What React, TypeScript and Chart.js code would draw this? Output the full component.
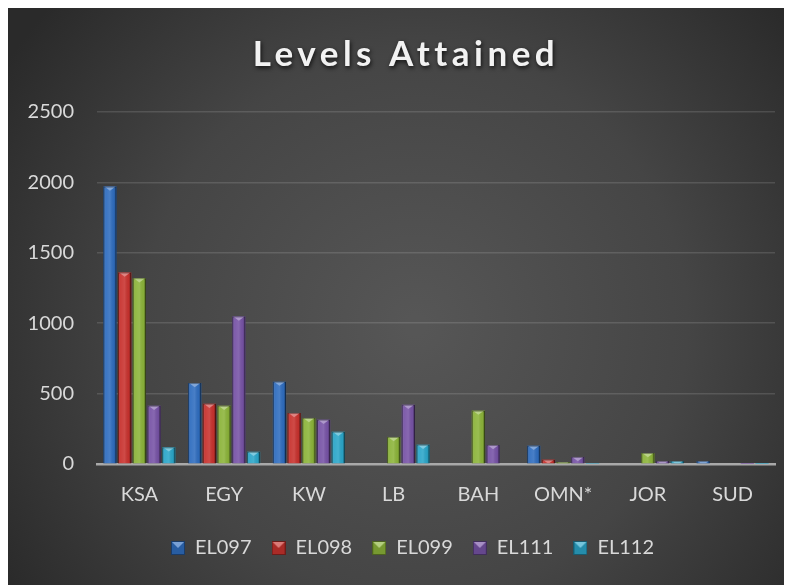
import React, { useEffect, useRef } from "react";
import { Chart, registerables } from "chart.js";
Chart.register(...registerables);

const categories = ["KSA", "EGY", "KW", "LB", "BAH", "OMN*", "JOR", "SUD"];
const seriesNames = ["EL097", "EL098", "EL099", "EL111", "EL112"];
const el097 = [1970, 575, 585, 0, 0, 130, 0, 21];
const el098 = [1360, 428, 362, 0, 0, 31, 0, 0];
const el099 = [1320, 414, 327, 192, 379, 14, 78, 0];
const el111 = [414, 1048, 315, 421, 135, 50, 21, 1];
const el112 = [118, 87, 229, 137, 0, 2, 21, 1];
const seriesValues = [el097, el098, el099, el111, el112];
const yMax = 2500;
const yStep = 500;
const titleText = "Levels Attained";
const colors = ["#2f6dbf", "#c8322e", "#8cb43a", "#7753a6", "#2ba6c9"];

const FONT = "Lato, 'Open Sans', sans-serif";
const W = 784;
const H = 577;

function mix(hex: string, target: number, amt: number) {
  const n = parseInt(hex.slice(1), 16);
  const r = (n >> 16) & 255, g = (n >> 8) & 255, b = n & 255;
  const f = (c: number) => Math.round(c + (target - c) * amt);
  return `rgb(${f(r)},${f(g)},${f(b)})`;
}

function makeIcon(color: string) {
  const c = document.createElement("canvas");
  c.width = 14;
  c.height = 14;
  const x = c.getContext("2d")!;
  x.fillStyle = mix(color, 0, 0.15);
  x.fillRect(0, 0, 14, 14);
  x.fillStyle = mix(color, 255, 0.35);
  x.beginPath();
  x.moveTo(1, 1);
  x.lineTo(13, 1);
  x.lineTo(7, 7);
  x.closePath();
  x.fill();
  x.strokeStyle = mix(color, 0, 0.45);
  x.lineWidth = 1;
  x.strokeRect(0.5, 0.5, 13, 13);
  return c;
}

const bgPlugin = {
  id: "bgPlugin",
  beforeDraw(chart: any) {
    const ctx = chart.ctx;
    ctx.save();
    const g = ctx.createRadialGradient(W * 0.52, H * 0.55, 10, W * 0.52, H * 0.55, W * 0.62);
    g.addColorStop(0, "#565656");
    g.addColorStop(0.55, "#454545");
    g.addColorStop(1, "#2a2a2a");
    ctx.fillStyle = g;
    ctx.fillRect(0, 0, W, H);
    ctx.restore();
  },
};

const legendShiftPlugin = {
  id: "legendShift",
  afterLayout(chart: any) {
    const lg = chart.legend;
    if (lg) {
      lg.left += 21;
      lg.right += 21;
    }
  },
};

const titlePlugin = {
  id: "titlePlugin",
  afterDraw(chart: any) {
    const ctx = chart.ctx;
    ctx.save();
    ctx.font = `bold 35px ${FONT}`;
    (ctx as any).letterSpacing = "4.5px";
    ctx.textAlign = "center";
    ctx.textBaseline = "alphabetic";
    ctx.shadowColor = "rgba(0,0,0,0.75)";
    ctx.shadowBlur = 4;
    ctx.shadowOffsetX = 1;
    ctx.shadowOffsetY = 2;
    ctx.fillStyle = "#f2f2f2";
    ctx.fillText(titleText, 398, 58);
    ctx.restore();
  },
};

const bevelPlugin = {
  id: "bevelPlugin",
  afterDatasetsDraw(chart: any) {
    const ctx = chart.ctx;
    chart.data.datasets.forEach((ds: any, i: number) => {
      const meta = chart.getDatasetMeta(i);
      const color = colors[i];
      meta.data.forEach((el: any) => {
        const { x, y, base, width } = el.getProps(["x", "y", "base", "width"], true);
        const h = base - y;
        if (h < 0.5) return;
        const l = x - width / 2;
        const r = x + width / 2;
        ctx.save();
        ctx.beginPath();
        ctx.rect(l, y, width, h);
        ctx.clip();
        const g = ctx.createLinearGradient(l, 0, r, 0);
        g.addColorStop(0, "rgba(0,0,0,0.35)");
        g.addColorStop(0.18, "rgba(255,255,255,0.06)");
        g.addColorStop(0.5, "rgba(255,255,255,0.12)");
        g.addColorStop(0.82, "rgba(0,0,0,0.04)");
        g.addColorStop(1, "rgba(0,0,0,0.5)");
        ctx.fillStyle = g;
        ctx.fillRect(l, y, width, h);
        const th = width * 0.32;
        ctx.fillStyle = mix(color, 255, 0.4);
        ctx.beginPath();
        ctx.moveTo(l + 1, y);
        ctx.lineTo(r - 1, y);
        ctx.lineTo(x, y + th);
        ctx.closePath();
        ctx.fill();
        ctx.strokeStyle = "rgba(0,0,0,0.35)";
        ctx.lineWidth = 1;
        ctx.strokeRect(l + 0.5, y + 0.5, width - 1, h);
        ctx.restore();
      });
    });
  },
};

export default function App() {
  const ref = useRef<HTMLCanvasElement>(null);
  useEffect(() => {
    if (!ref.current) return;
    const icons = colors.map((c) => makeIcon(c));
    const chart = new Chart(ref.current, {
      type: "bar",
      data: {
        labels: categories,
        datasets: seriesNames.map((name, i) => ({
          label: name,
          data: seriesValues[i],
          backgroundColor: colors[i],
          borderWidth: 0,
          categoryPercentage: 0.868,
          barPercentage: 0.9,
        })),
      },
      options: {
        animation: false,
        responsive: false,
        layout: { padding: { left: 0, right: 17, top: 104, bottom: 17 } },
        plugins: {
          title: { display: false },
          tooltip: { enabled: false },
          legend: {
            position: "bottom",
            labels: {
              usePointStyle: true,
              boxWidth: 14,
              boxHeight: 14,
              padding: 20,
              color: "#d9d9d9",
              font: { family: FONT, size: 20 },
              generateLabels: (c: any) => {
                const items = Chart.defaults.plugins.legend.labels.generateLabels(c);
                return items.map((it: any, i: number) => ({ ...it, pointStyle: icons[i], fontColor: "#d9d9d9" }));
              },
            },
          },
        },
        scales: {
          x: {
            grid: { display: false, drawTicks: false },
            border: { display: true, color: "#a9a9a9", width: 2.5 },
            ticks: { color: "#d9d9d9", font: { family: FONT, size: 20 }, padding: 19 },
            afterFit: (s: any) => {
              s.height = 54;
            },
          },
          y: {
            min: 0,
            max: yMax,
            ticks: {
              stepSize: yStep,
              color: "#d9d9d9",
              font: { family: FONT, size: 20 },
              padding: 23,
              callback: (v: any) => String(v),
            },
            grid: { color: "rgba(255,255,255,0.13)", lineWidth: 1.5, drawTicks: false },
            border: { display: false },
            afterFit: (s: any) => {
              s.width = 89;
            },
          },
        },
      },
      plugins: [bgPlugin, legendShiftPlugin, bevelPlugin, titlePlugin],
    } as any);
    return () => chart.destroy();
  }, []);
  return (
    <div style={{ width: W, height: H }}>
      <canvas ref={ref} width={W} height={H} style={{ display: "block" }} />
    </div>
  );
}
